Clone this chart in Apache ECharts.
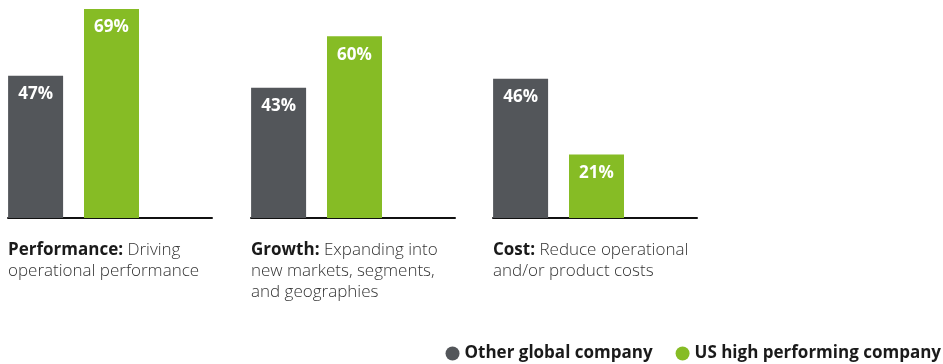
<!DOCTYPE html>
<html>
<head>
<meta charset="utf-8">
<script src="https://cdn.jsdelivr.net/npm/echarts@6/dist/echarts.min.js"></script>
<style>
html,body{margin:0;padding:0;background:#fff;}
#chart{width:943px;height:364px;}
</style>
</head>
<body>
<div id="chart"></div>
<script>
const groupTitles = ['Performance:', 'Growth:', 'Cost:'];
const groupTexts = [' Driving\noperational performance', ' Expanding into\nnew markets, segments,\nand geographies', ' Reduce operational\nand/or product costs'];
const seriesNames = ['Other global company', 'US high performing company'];
const otherGlobal = [47, 43, 46];
const usHigh = [69, 60, 21];
const colors = ['#53565a', '#86bc25'];

const FONT = "'Open Sans', 'DejaVu Sans', sans-serif";
const groupLefts = [8, 251, 493];
const grids = [], xAxes = [], yAxes = [], series = [], titles = [];

groupLefts.forEach((left, i) => {
  grids.push({left: left, top: 0, width: 204, height: 218});
  xAxes.push({
    type: 'category', gridIndex: i, data: [groupTitles[i]],
    axisLine: {show: true, lineStyle: {color: '#111', width: 2}},
    axisTick: {show: false}, axisLabel: {show: false}
  });
  yAxes.push({type: 'value', gridIndex: i, min: 0, max: 72, show: false, splitLine: {show: false}});
  const vals = [otherGlobal[i], usHigh[i]];
  vals.forEach((v, s) => {
    series.push({
      name: seriesNames[s], type: 'bar', xAxisIndex: i, yAxisIndex: i,
      data: [v], barWidth: 55, barGap: '38%',
      itemStyle: {color: colors[s]},
      label: {show: true, position: 'insideTop', distance: 10, formatter: '{c}%',
        color: '#fff', fontFamily: FONT, fontWeight: 'bold', fontSize: 17},
      silent: true
    });
  });
  // empty slot keeping the bars left-aligned in the group
  series.push({name: 'pad', type: 'bar', xAxisIndex: i, yAxisIndex: i, data: [null], barWidth: 52, barGap: '38%', silent: true});
  titles.push({
    left: left, top: 240, padding: 0,
    text: '{b|' + groupTitles[i] + '}{r|' + groupTexts[i].split('\n')[0] + '}' +
      groupTexts[i].split('\n').slice(1).map(t => '\n{r|' + t + '}').join(''),
    textStyle: {
      rich: {
        b: {fontFamily: FONT, fontWeight: 'bold', fontSize: 17, color: '#1a1a1a', lineHeight: 21},
        r: {fontFamily: FONT, fontWeight: 300, fontSize: 17, color: '#333', lineHeight: 21}
      }
    }
  });
});

const chart = echarts.init(document.getElementById('chart'), null, {renderer: 'canvas'});
chart.setOption({
  animation: false,
  title: titles,
  grid: grids, xAxis: xAxes, yAxis: yAxes, series: series,
  legend: {
    data: seriesNames, right: 2, top: 345, padding: 0, icon: 'circle', itemWidth: 14, itemHeight: 14, itemGap: 23,
    textStyle: {fontFamily: FONT, fontWeight: 'bold', fontSize: 17, color: '#1a1a1a'},
    selectedMode: false
  }
});
</script>
</body>
</html>
